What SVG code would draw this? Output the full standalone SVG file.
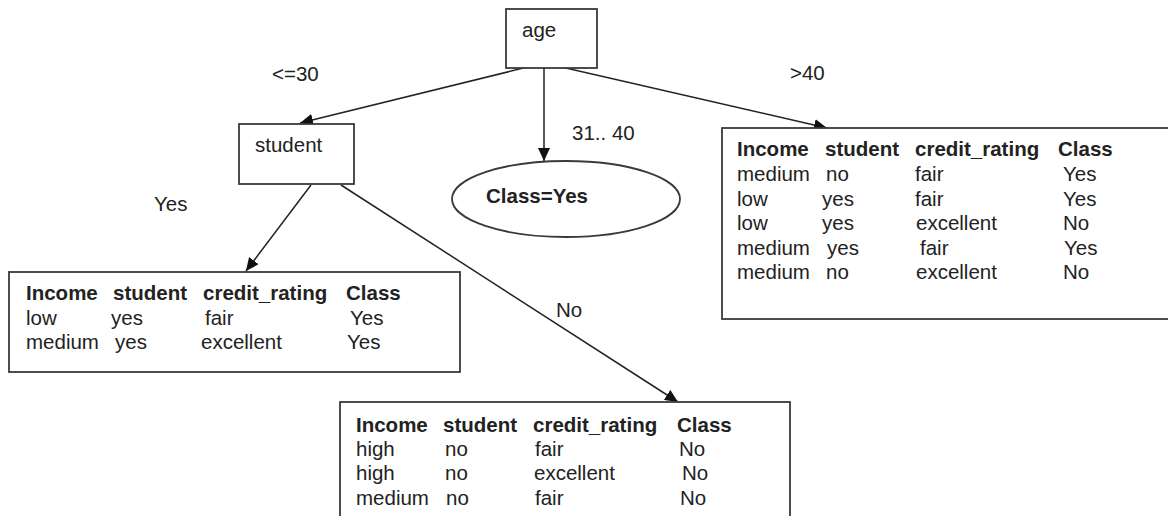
<svg xmlns="http://www.w3.org/2000/svg" width="1168" height="516" viewBox="0 0 1168 516">
<style>
  .box { fill: #ffffff; stroke: #3a3a3a; stroke-width: 1.8; }
  .edge { fill: none; stroke: #222222; stroke-width: 1.5; marker-end: url(#arrow); }
  text { font-family: "Liberation Sans", Arial, sans-serif; font-size: 20.5px; fill: #222222; }
  .b { font-weight: bold; }
</style>
<defs>
  <marker id="arrow" markerUnits="userSpaceOnUse" markerWidth="14" markerHeight="12" refX="13" refY="6" orient="auto">
    <path d="M0,0 L13,6 L0,12 z" fill="#111111"/>
  </marker>
</defs>
<rect width="1168" height="516" fill="#ffffff"/>

<g id="connectors">
  <line class="edge" x1="544" y1="63" x2="300" y2="123"/>
  <line class="edge" x1="544" y1="63" x2="544" y2="161"/>
  <line class="edge" x1="544" y1="63" x2="827" y2="128"/>
  <line class="edge" x1="311" y1="185" x2="246" y2="271"/>
  <line class="edge" x1="341" y1="185" x2="678" y2="402"/>
  <text x="272" y="81">&lt;=30</text>
  <text x="572" y="140">31.. 40</text>
  <text x="790" y="80">&gt;40</text>
  <text x="154" y="211">Yes</text>
  <text x="556" y="317">No</text>
</g>

<g id="node-age">
  <rect class="box" x="506" y="9" width="91" height="59"/>
  <text x="522" y="37">age</text>
</g>

<g id="node-student">
  <rect class="box" x="239" y="124" width="115" height="60"/>
  <text x="255" y="152">student</text>
</g>

<g id="node-class-yes">
  <ellipse class="box" cx="566" cy="199" rx="114" ry="38"/>
  <text class="b" x="486" y="203">Class=Yes</text>
</g>

<g id="node-table-yes">
  <rect class="box" x="9" y="272" width="451" height="100"/>
  <text class="b" x="26" y="300">Income</text>
  <text class="b" x="113" y="300">student</text>
  <text class="b" x="203" y="300">credit_rating</text>
  <text class="b" x="346" y="300">Class</text>
  <text x="26" y="325">low</text>
  <text x="111" y="325">yes</text>
  <text x="205" y="325">fair</text>
  <text x="350" y="325">Yes</text>
  <text x="26" y="349">medium</text>
  <text x="115" y="349">yes</text>
  <text x="201" y="349">excellent</text>
  <text x="347" y="349">Yes</text>
</g>

<g id="node-table-no">
  <rect class="box" x="340" y="402" width="450" height="130"/>
  <text class="b" x="356" y="432">Income</text>
  <text class="b" x="443" y="432">student</text>
  <text class="b" x="533" y="432">credit_rating</text>
  <text class="b" x="677" y="432">Class</text>
  <text x="356" y="456">high</text>
  <text x="445" y="456">no</text>
  <text x="535" y="456">fair</text>
  <text x="679" y="456">No</text>
  <text x="356" y="480">high</text>
  <text x="445" y="480">no</text>
  <text x="534" y="480">excellent</text>
  <text x="682" y="480">No</text>
  <text x="356" y="505">medium</text>
  <text x="446" y="505">no</text>
  <text x="535" y="505">fair</text>
  <text x="680" y="505">No</text>
</g>

<g id="node-table-gt40">
  <rect class="box" x="722" y="128" width="460" height="191"/>
  <text class="b" x="737" y="156">Income</text>
  <text class="b" x="825" y="156">student</text>
  <text class="b" x="915" y="156">credit_rating</text>
  <text class="b" x="1058" y="156">Class</text>
  <text x="737" y="181">medium</text>
  <text x="826" y="181">no</text>
  <text x="915" y="181">fair</text>
  <text x="1063" y="181">Yes</text>
  <text x="737" y="206">low</text>
  <text x="822" y="206">yes</text>
  <text x="915" y="206">fair</text>
  <text x="1063" y="206">Yes</text>
  <text x="737" y="230">low</text>
  <text x="822" y="230">yes</text>
  <text x="916" y="230">excellent</text>
  <text x="1063" y="230">No</text>
  <text x="737" y="255">medium</text>
  <text x="827" y="255">yes</text>
  <text x="920" y="255">fair</text>
  <text x="1064" y="255">Yes</text>
  <text x="737" y="279">medium</text>
  <text x="826" y="279">no</text>
  <text x="916" y="279">excellent</text>
  <text x="1063" y="279">No</text>
</g>
</svg>
